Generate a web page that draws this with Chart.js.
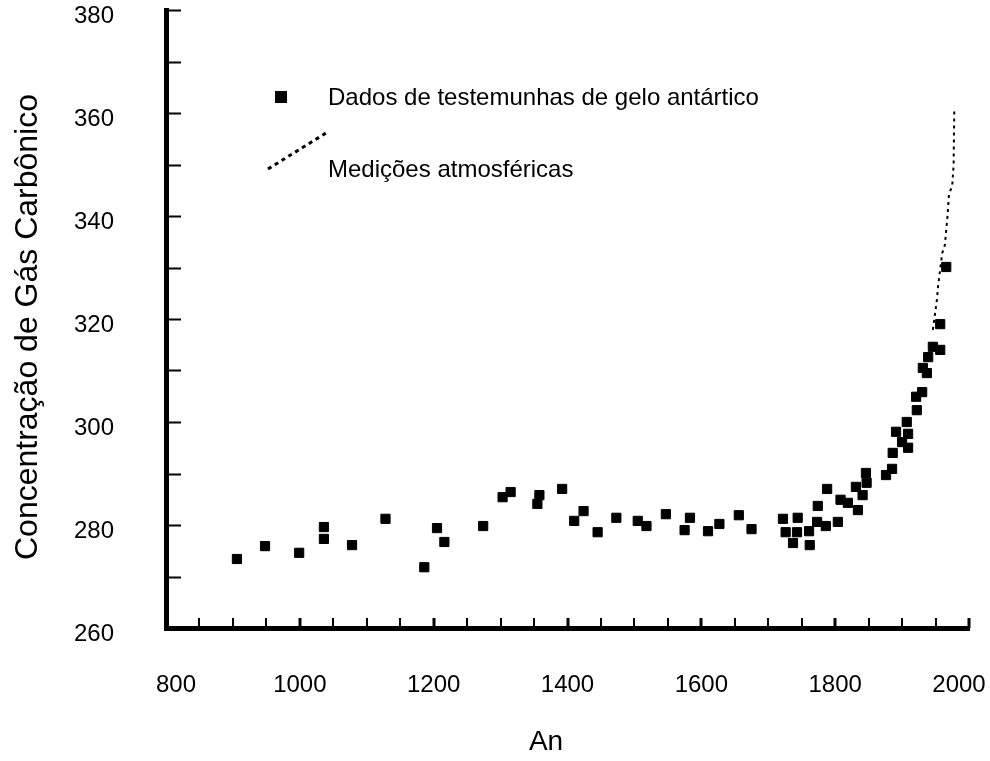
<!DOCTYPE html>
<html>
<head>
<meta charset="utf-8">
<script src="https://cdn.jsdelivr.net/npm/chart.js@4"></script>
<style>
  html, body { margin: 0; padding: 0; background: #fff; }
  #wrap { width: 990px; height: 761px; }
</style>
</head>
<body>
<div id="wrap"><canvas id="myChart" width="990" height="761"></canvas></div>
<script>
// ice core samples (year, ppm)
const iceYears = [906, 948, 999, 1036, 1036, 1078, 1128, 1186, 1205, 1216,
  1274, 1303, 1315, 1358, 1355, 1392, 1410, 1424, 1445, 1473,
  1505, 1518, 1547, 1575, 1583, 1610, 1627, 1656, 1675, 1722,
  1744, 1726, 1743, 1737, 1761, 1762, 1773, 1786, 1804, 1774,
  1788, 1819, 1834, 1808, 1831, 1847, 1846, 1841, 1876, 1885,
  1886, 1900, 1909, 1891, 1909, 1907, 1922, 1930, 1921, 1937,
  1931, 1939, 1946, 1957, 1957, 1966];
const iceCO2 = [273.4, 275.9, 274.6, 279.6, 277.3, 276.1, 281.2, 271.8, 279.4, 276.7,
  279.8, 285.4, 286.4, 285.8, 284.1, 287.0, 280.8, 282.7, 278.6, 281.4,
  280.8, 279.8, 282.1, 279.0, 281.4, 278.8, 280.2, 281.9, 279.2, 281.2,
  281.4, 278.6, 278.6, 276.5, 278.8, 276.1, 280.6, 279.8, 280.6, 283.7,
  287.0, 284.3, 282.9, 284.9, 287.4, 288.2, 290.1, 285.8, 289.7, 290.9,
  294.0, 296.1, 295.0, 298.1, 297.7, 300.0, 302.3, 305.8, 304.9, 309.5,
  310.5, 312.6, 314.6, 314.0, 319.0, 330.1];

// atmospheric measurements
const atmYears = [1946, 1952, 1954, 1960, 1964, 1968, 1970, 1975, 1977, 1978];
const atmCO2 = [317.9, 323.7, 326.6, 332.8, 334.4, 340.2, 344.1, 346.0, 349.9, 360.6];

const seriesLabels = ["Dados de testemunhas de gelo antártico", "Medições atmosféricas"];
const xTitle = "An";
const yTitle = "Concentração de Gás Carbônico";

const FONT = "'Liberation Sans', Arial, Helvetica, sans-serif";

const toPoints = (xs, ys) => xs.map((x, i) => ({ x: x, y: ys[i] }));

// chart.js pads the area for the end labels, the original does not
const noPadding = (scale) => {
  scale.paddingLeft = 0;
  scale.paddingRight = 0;
  scale.paddingTop = 0;
  scale.paddingBottom = 0;
};

// end labels sit a bit inside the axis ends in the original
const yearLabel = (v) => {
  if ((v - 800) % 200 !== 0) return '';
  if (v === 800) return '   ' + v;
  if (v === 2000) return v + '   ';
  return String(v);
};

// axis ticks drawn inward, titles and the little legend
const decorations = {
  id: 'decorations',
  afterDraw(chart) {
    const ctx = chart.ctx;
    const area = chart.chartArea;
    const xs = chart.scales.x, ys = chart.scales.y;
    ctx.save();
    ctx.strokeStyle = '#000';
    ctx.lineWidth = 2;
    for (let v = 270; v <= 380; v += 10) {
      const py = Math.round(ys.getPixelForValue(v)) + 0.5;
      ctx.beginPath();
      ctx.moveTo(area.left, py);
      ctx.lineTo(area.left + 15, py);
      ctx.stroke();
    }
    for (let v = 850; v <= 2000; v += 50) {
      const px = Math.round(xs.getPixelForValue(v));
      ctx.lineWidth = (v % 200 === 0) ? 3 : 2;
      ctx.beginPath();
      ctx.moveTo(px, area.bottom);
      ctx.lineTo(px, area.bottom - 10);
      ctx.stroke();
    }

    // titles
    ctx.fillStyle = '#000';
    ctx.textAlign = 'center';
    ctx.textBaseline = 'middle';
    ctx.font = '28px ' + FONT;
    ctx.fillText(xTitle, 546, 742);
    ctx.save();
    ctx.translate(28, 327);
    ctx.rotate(-Math.PI / 2);
    ctx.font = '32px ' + FONT;
    ctx.fillText(yTitle, 0, 0);
    ctx.restore();

    // legend
    const ds = chart.data.datasets;
    ctx.fillRect(275, 91, 12, 12);
    ctx.lineWidth = 3;
    ctx.setLineDash([4, 4]);
    ctx.beginPath();
    ctx.moveTo(268, 169);
    ctx.lineTo(326, 133);
    ctx.stroke();
    ctx.setLineDash([]);
    ctx.textAlign = 'left';
    ctx.font = '24px ' + FONT;
    ctx.fillText(ds[0].label, 328, 98);
    ctx.fillText(ds[1].label, 328, 170);
    ctx.restore();
  }
};

new Chart(document.getElementById('myChart').getContext('2d'), {
  type: 'scatter',
  data: {
    datasets: [
      {
        label: seriesLabels[0],
        data: toPoints(iceYears, iceCO2),
        pointStyle: 'rect',
        pointRadius: 6.5,
        backgroundColor: '#000',
        borderColor: '#000',
        borderWidth: 1
      },
      {
        label: seriesLabels[1],
        data: toPoints(atmYears, atmCO2),
        showLine: true,
        pointRadius: 0,
        borderColor: '#000',
        borderWidth: 2,
        borderDash: [3, 4],
        tension: 0
      }
    ]
  },
  plugins: [decorations],
  options: {
    responsive: false,
    animation: false,
    layout: { padding: { top: 10, right: 21, left: 0, bottom: 0 } },
    plugins: {
      legend: { display: false },
      tooltip: { enabled: false }
    },
    scales: {
      x: {
        type: 'linear',
        min: 800,
        max: 2000,
        afterFit: (scale) => { scale.height = 133; noPadding(scale); },
        grid: { display: false },
        border: { display: true, color: '#000', width: 5 },
        ticks: {
          stepSize: 50,
          autoSkip: false,
          maxRotation: 0,
          padding: 35,
          color: '#000',
          font: { family: FONT, size: 24 },
          callback: yearLabel
        }
      },
      y: {
        type: 'linear',
        min: 260,
        max: 380,
        afterFit: (scale) => { scale.width = 166; noPadding(scale); },
        grid: { display: false },
        border: { display: true, color: '#000', width: 5 },
        ticks: {
          stepSize: 10,
          autoSkip: false,
          padding: 44,
          labelOffset: 6,
          color: '#000',
          font: { family: FONT, size: 24 },
          callback: (v) => (v % 20 === 0 ? String(v) : '')
        }
      }
    }
  }
});
</script>
</body>
</html>
